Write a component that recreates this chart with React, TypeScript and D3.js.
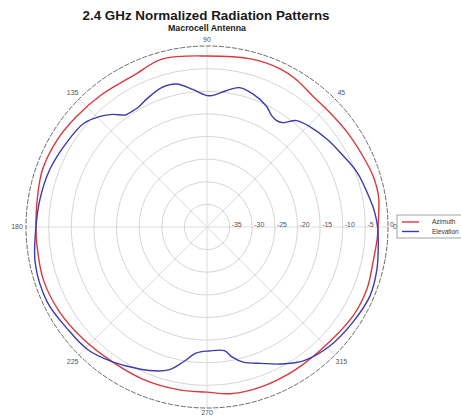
import { useEffect, useRef } from "react";
import * as d3 from "d3";

// angles in degrees (0 = right, counter-clockwise), gains in dB
const azimuthAngles = [0, 10, 17, 25, 34, 43, 51, 59, 65, 75, 90, 105, 116, 129, 140, 150, 161, 171, 180, 186, 198, 210, 222, 235, 247, 260, 270, 278, 289, 302, 317, 329, 339, 348, 356];
const azimuthGain = [-2.2, -1.5, -1.6, -2.2, -2.6, -2.9, -2.8, -1.9, -1.5, -1.6, -2.2, -1.6, -2.8, -2.6, -2.2, -1.7, -1.5, -2.0, -2.2, -2.2, -2.0, -2.4, -3.1, -3.6, -3.5, -3.5, -3.5, -2.8, -2.7, -2.9, -2.9, -2.2, -2.1, -2.5, -2.3];

const elevationAngles = [0, 5, 10, 20, 28, 36, 44, 50, 54, 57, 60, 64, 71, 77, 82, 89, 96, 102, 108, 115, 120, 124, 126, 130, 134, 140, 149, 160, 170, 180, 192, 205, 216, 226, 235, 241, 248, 255, 260, 265, 271, 278, 281, 285, 292, 298, 306, 316, 327, 337, 346, 355];
const elevationGain = [-2.3, -2.8, -3.5, -4.7, -6.1, -7.1, -8.2, -9.3, -11.5, -11.9, -11.5, -10.2, -8.9, -8.4, -9.6, -11.0, -9.4, -7.7, -7.6, -8.7, -9.5, -9.5, -9.4, -7.5, -6.0, -4.4, -3.8, -3.0, -2.6, -2.2, -1.2, -1.0, -1.8, -2.2, -3.6, -4.7, -5.8, -7.3, -9.7, -12.0, -12.6, -12.4, -10.7, -9.1, -7.5, -5.7, -3.5, -2.2, -1.5, -0.9, -1.3, -2.0];

const ringTicks = [-35, -30, -25, -20, -15, -10, -5, 0];
const angleTicks = [0, 45, 90, 135, 180, 225, 270, 315];
const seriesNames = ["Azimuth", "Elevation"];
const seriesColors = ["#d9393b", "#3b3bb0"];

const W = 461;
const H = 417;
const cx = 207;
const cy = 227;
const R = 181;

export default function App() {
  const svgRef = useRef<SVGSVGElement | null>(null);

  useEffect(() => {
    const svg = d3.select(svgRef.current);
    svg.selectAll("*").remove();

    const r = d3.scaleLinear().domain([-40, 0]).range([0, R]);
    const toRad = (deg: number) => (deg * Math.PI) / 180;

    // title
    svg.append("text")
      .attr("x", 206).attr("y", 20)
      .attr("text-anchor", "middle")
      .attr("font-family", "Liberation Sans, Arial, sans-serif")
      .attr("font-weight", "bold").attr("font-size", 13.4)
      .attr("fill", "#1a1a1a")
      .text("2.4 GHz Normalized Radiation Patterns");
    svg.append("text")
      .attr("x", 207).attr("y", 31)
      .attr("text-anchor", "middle")
      .attr("font-family", "Liberation Sans, Arial, sans-serif")
      .attr("font-weight", "bold").attr("font-size", 8.8)
      .attr("fill", "#1a1a1a")
      .text("Macrocell Antenna");

    const g = svg.append("g").attr("transform", `translate(${cx},${cy})`);

    // spokes
    g.append("g")
      .selectAll("line")
      .data([0, 45, 90, 135])
      .join("line")
      .attr("x1", (d) => -R * Math.cos(toRad(d)))
      .attr("y1", (d) => R * Math.sin(toRad(d)))
      .attr("x2", (d) => R * Math.cos(toRad(d)))
      .attr("y2", (d) => -R * Math.sin(toRad(d)))
      .attr("stroke", "#dcdcdc")
      .attr("stroke-width", 1);

    // rings
    g.append("g")
      .selectAll("circle")
      .data(ringTicks)
      .join("circle")
      .attr("r", (d) => r(d))
      .attr("fill", "none")
      .attr("stroke", (d) => (d === 0 ? "#6a6a6a" : "#d6d6d6"))
      .attr("stroke-dasharray", (d) => (d === 0 ? "5 1.5" : null))
      .attr("stroke-width", 1);

    // ring labels
    g.append("g")
      .selectAll("text")
      .data(ringTicks)
      .join("text")
      .attr("x", (d) => r(d) + 2)
      .attr("y", -2)
      .attr("dy", "0.35em")
      .attr("font-family", "Liberation Sans, Arial, sans-serif")
      .attr("font-size", 7)
      .attr("fill", "#555")
      .text((d) => d);

    // angle labels
    g.append("g")
      .selectAll("text")
      .data(angleTicks)
      .join("text")
      .attr("x", (d) => (R + 9) * Math.cos(toRad(d)) + (d === 0 ? -2 : 0))
      .attr("y", (d) => -(R + 9) * Math.sin(toRad(d)) + (d === 90 ? 3 : d === 270 ? -4 : 0))
      .attr("dy", "0.35em")
      .attr("text-anchor", "middle")
      .attr("font-family", "Liberation Sans, Arial, sans-serif")
      .attr("font-size", 7)
      .attr("fill", "#555")
      .text((d) => d);

    const series = [
      azimuthAngles.map((a, i) => [a, azimuthGain[i]]),
      elevationAngles.map((a, i) => [a, elevationGain[i]]),
    ];

    const line = d3.line<number[]>()
      .x((d) => r(d[1]) * Math.cos(toRad(d[0])))
      .y((d) => -r(d[1]) * Math.sin(toRad(d[0])))
      .curve(d3.curveCatmullRomClosed.alpha(0.5));

    g.append("g")
      .selectAll("path")
      .data(series)
      .join("path")
      .attr("d", (d) => line(d))
      .attr("fill", "none")
      .attr("stroke", (_, i) => seriesColors[i])
      .attr("stroke-width", 1.4);

    // legend
    const lg = svg.append("g").attr("transform", "translate(397,215)");
    lg.append("rect")
      .attr("width", 70).attr("height", 23)
      .attr("fill", "#fff").attr("stroke", "#8a8a8a").attr("stroke-width", 0.8);
    seriesNames.forEach((name, i) => {
      lg.append("line")
        .attr("x1", 5).attr("x2", 22)
        .attr("y1", 7 + i * 9.5).attr("y2", 7 + i * 9.5)
        .attr("stroke", seriesColors[i]).attr("stroke-width", 1.4);
      lg.append("text")
        .attr("x", 35).attr("y", 7 + i * 9.5)
        .attr("dy", "0.35em")
        .attr("font-family", "Liberation Sans, Arial, sans-serif")
        .attr("font-size", 6.5)
        .attr("fill", "#333")
        .text(name);
    });
  }, []);

  return (
    <div style={{ position: "fixed", left: 0, top: 0, width: W, height: H, background: "#fff" }}>
      <svg ref={svgRef} width={W} height={H} style={{ display: "block" }} />
    </div>
  );
}
